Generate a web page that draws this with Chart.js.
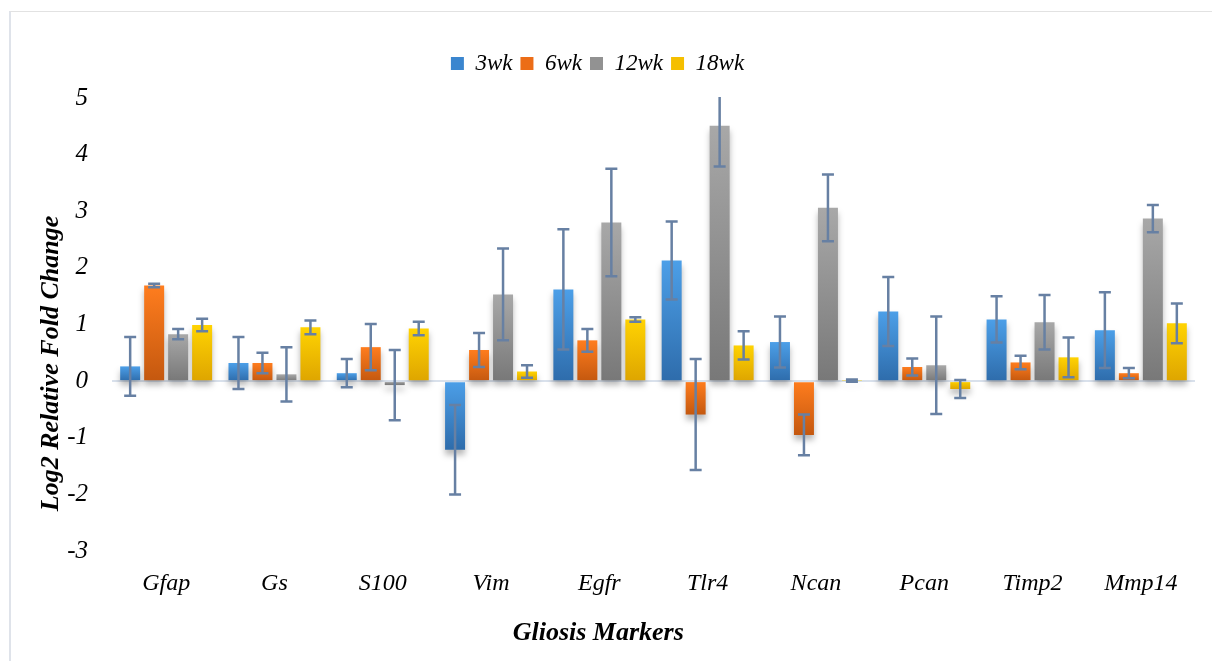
<!DOCTYPE html>
<html>
<head>
<meta charset="utf-8">
<script src="https://cdn.jsdelivr.net/npm/chart.js@4.4.0/dist/chart.umd.min.js"></script>
<style>
  body { margin: 0; background: #fff; }
  #wrap { position: relative; width: 1212px; height: 661px; }
  #frame {
    position: absolute; left: 9px; top: 11px; right: 0; bottom: 0;
    border-left: 2px solid #dfe3ea; border-top: 1px solid #e2e2e2;
    pointer-events: none;
  }
</style>
</head>
<body>
<div id="wrap">
  <canvas id="myBarChart" width="1212" height="661"></canvas>
  <div id="frame"></div>
</div>
<script>
// Values
const categories = ["Gfap", "Gs", "S100", "Vim", "Egfr", "Tlr4", "Ncan", "Pcan", "Timp2", "Mmp14"];
const seriesNames = ["3wk", "6wk", "12wk", "18wk"];

const wk3 = [0.26, 0.32, 0.14, -1.21, 1.62, 2.13, 0.69, 1.23, 1.09, 0.90];
const wk3Err = [0.52, 0.46, 0.25, 0.79, 1.06, 0.69, 0.45, 0.61, 0.41, 0.67];
const wk6 = [1.69, 0.32, 0.60, 0.55, 0.72, -0.59, -0.95, 0.25, 0.33, 0.14];
const wk6Err = [0.03, 0.18, 0.41, 0.30, 0.20, 0.98, 0.36, 0.15, 0.12, 0.09];
const wk12 = [0.83, 0.12, -0.07, 1.53, 2.80, 4.51, 3.06, 0.28, 1.04, 2.87];
const wk12Err = [0.09, 0.48, 0.62, 0.81, 0.95, 0.72, 0.59, 0.86, 0.48, 0.24];
const wk18 = [0.99, 0.95, 0.93, 0.17, 1.09, 0.63, 0.01, -0.14, 0.42, 1.02];
const wk18Err = [0.11, 0.12, 0.12, 0.11, 0.04, 0.25, 0.02, 0.16, 0.35, 0.35];

const yTicks = [-3, -2, -1, 0, 1, 2, 3, 4, 5];

const FONT = "'Liberation Serif', 'Times New Roman', serif";

// vertical gradient per bar: light on top, dark at the bottom
function barFill(light, dark) {
    return (ctx) => {
        const chart = ctx.chart;
        if (!chart.chartArea || ctx.type !== "data") return dark;
        const y = chart.scales.y;
        const v = ctx.raw;
        const top = y.getPixelForValue(Math.max(v, 0));
        const bot = y.getPixelForValue(Math.min(v, 0));
        if (bot - top < 1) return light;
        const g = chart.ctx.createLinearGradient(0, top, 0, bot);
        g.addColorStop(0, light);
        g.addColorStop(1, dark);
        return g;
    };
}

const palette = [
    { light: "#4c9fe8", dark: "#2e6cab", mid: "#3b86cf" },
    { light: "#ff7d1e", dark: "#c4580f", mid: "#ec6d17" },
    { light: "#a8a8a8", dark: "#787878", mid: "#929292" },
    { light: "#ffd302", dark: "#dea500", mid: "#f5bf00" },
];

const values = [wk3, wk6, wk12, wk18];
const errors = [wk3Err, wk6Err, wk12Err, wk18Err];

const datasets = seriesNames.map((name, i) => ({
    label: name,
    data: values[i],
    errors: errors[i],
    backgroundColor: barFill(palette[i].light, palette[i].dark),
    borderWidth: 0,
    categoryPercentage: 0.886,
    barPercentage: 0.833,
}));

// soft drop shadow under the bars
const barShadow = {
    id: "barShadow",
    beforeDatasetsDraw(chart) {
        const c = chart.ctx;
        c.save();
        c.shadowColor = "rgba(0,0,0,0.28)";
        c.shadowBlur = 6;
        c.shadowOffsetY = 5;
    },
    afterDatasetsDraw(chart) {
        chart.ctx.restore();
    },
};

// error bars drawn from the dataset "errors" arrays
const errorBars = {
    id: "errorBars",
    afterDatasetsDraw(chart) {
        const c = chart.ctx;
        const y = chart.scales.y;
        const area = chart.chartArea;
        c.save();
        c.beginPath();
        c.rect(area.left, area.top - 1, area.right - area.left, area.bottom - area.top + 2);
        c.clip();
        c.strokeStyle = "#6780a3";
        c.lineWidth = 2.5;
        chart.data.datasets.forEach((ds, di) => {
            const meta = chart.getDatasetMeta(di);
            meta.data.forEach((bar, i) => {
                const v = ds.data[i], e = ds.errors[i];
                const top = y.getPixelForValue(v + e);
                const bot = y.getPixelForValue(v - e);
                const x = bar.x;
                c.beginPath();
                c.moveTo(x, top); c.lineTo(x, bot);
                if (top > area.top) { c.moveTo(x - 6, top); c.lineTo(x + 6, top); }
                c.moveTo(x - 6, bot); c.lineTo(x + 6, bot);
                c.stroke();
            });
        });
        c.restore();
    },
};

// extra room under the legend
const legendGap = {
    id: "legendGap",
    beforeInit(chart) {
        const fit = chart.legend.fit;
        chart.legend.fit = function () {
            fit.bind(chart.legend)();
            this.height += 13;
        };
    },
};

const ctx = document.getElementById("myBarChart").getContext("2d");

new Chart(ctx, {
    type: "bar",
    data: { labels: categories, datasets: datasets },
    plugins: [barShadow, errorBars, legendGap],
    options: {
        responsive: false,
        animation: false,
        layout: { padding: { top: 44, right: 17, left: 0, bottom: 0 } },
        plugins: {
            tooltip: { enabled: false },
            legend: {
                position: "top",
                labels: {
                    boxWidth: 13,
                    boxHeight: 13,
                    padding: 8,
                    color: "#000",
                    font: { family: FONT, size: 23, style: "italic" },
                    generateLabels: (chart) => chart.data.datasets.map((ds, i) => ({
                        text: ds.label,
                        fillStyle: palette[i].mid,
                        strokeStyle: palette[i].mid,
                        lineWidth: 0,
                        datasetIndex: i,
                    })),
                },
            },
        },
        scales: {
            x: {
                grid: { display: false, drawTicks: false },
                border: { display: false },
                ticks: {
                    color: "#000",
                    padding: 18,
                    maxRotation: 0,
                    font: { family: FONT, size: 24, style: "italic" },
                },
                title: {
                    display: true,
                    // trailing spaces push the title left, as in the reference
                    text: "Gliosis Markers" + " ".repeat(17),
                    color: "#000",
                    padding: { top: 0, bottom: 12 },
                    font: { family: FONT, size: 26, style: "italic", weight: "bold" },
                },
                afterFit(scale) { scale.height = 110; },
            },
            y: {
                min: -3,
                max: 5,
                afterBuildTicks(scale) {
                    scale.ticks = yTicks.map((v) => ({ value: v }));
                },
                grid: {
                    drawTicks: false,
                    lineWidth: 2,
                    color: (c) => (c.tick && c.tick.value === 0 ? "#d9e1ec" : "rgba(0,0,0,0)"),
                },
                border: { display: false },
                ticks: {
                    color: "#000",
                    padding: 24,
                    font: { family: FONT, size: 25, style: "italic" },
                },
                title: {
                    display: true,
                    text: "Log2 Relative Fold Change" + " ".repeat(12),
                    color: "#000",
                    padding: { top: 36, bottom: 0 },
                    font: { family: FONT, size: 26, style: "italic", weight: "bold" },
                },
                afterFit(scale) { scale.width = 112; },
            },
        },
    },
});
</script>
</body>
</html>
